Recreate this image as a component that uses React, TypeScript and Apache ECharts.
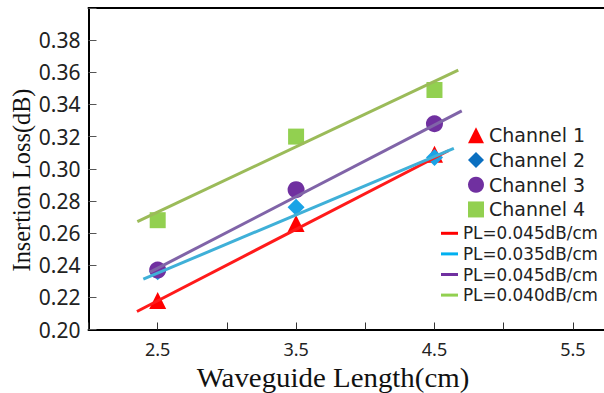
import React, { useEffect, useRef } from "react";
import * as echarts from "echarts";

const xValues = [2.5, 3.5, 4.5];
const channel1 = [0.218, 0.266, 0.309];
const channel2 = [0.236, 0.276, 0.307];
const channel3 = [0.237, 0.287, 0.328];
const channel4 = [0.268, 0.32, 0.349];

const channelNames = ["Channel 1", "Channel 2", "Channel 3", "Channel 4"];
const fitNames = ["fit1", "fit2", "fit3", "fit4"];
const fitLabels = ["PL=0.045dB/cm", "PL=0.035dB/cm", "PL=0.045dB/cm", "PL=0.040dB/cm"];
const fit1 = [[2.35, 0.2112], [4.6, 0.3112]];
const fit2 = [[2.396, 0.2313], [4.64, 0.3127]];
const fit3 = [[2.445, 0.2357], [4.697, 0.336]];
const fit4 = [[2.353, 0.2671], [4.672, 0.3613]];

const yTitle = "Insertion Loss(dB)";
const xTitle = "Waveguide Length(cm)";

const channelColors = ["#ff0000", "#1aa3e6", "#7030a0", "#92d050"];
const channelLegendColors = ["#ff0000", "#0b6fc0", "#7030a0", "#92d050"];
const channelSymbols = ["triangle", "diamond", "circle", "rect"];
const channelSizes = [17, 17, 17, 16];
const fitColors = ["#ff1a1a", "#3fb0d8", "#8064a8", "#9bbb59"];
const fitLegendColors = ["#ff0000", "#00b0f0", "#7030a0", "#92d050"];

export default function App() {
  const ref = useRef<HTMLDivElement>(null);
  useEffect(() => {
    if (!ref.current) return;
    const chart = echarts.init(ref.current, null, { renderer: "svg" });
    const channels = [channel1, channel2, channel3, channel4];
    const fits = [fit1, fit2, fit3, fit4];
    const scatterSeries = channels.map((vals, i) => ({
      name: channelNames[i],
      type: "scatter",
      symbol: channelSymbols[i],
      symbolSize: channelSizes[i],
      itemStyle: { color: channelColors[i], opacity: 1 },
      data: vals.map((v, j) => [xValues[j], v]),
      z: 2,
    }));
    const lineSeries = fits.map((pts, i) => ({
      name: fitNames[i],
      type: "line",
      symbol: "none",
      color: fitColors[i],
      lineStyle: { color: fitColors[i], width: 3 },
      data: pts,
      z: 3,
    }));
    const axisLineStyle = { show: true, onZero: false, lineStyle: { color: "#000", width: 2 } };
    chart.setOption({
      animation: false,
      grid: {
        left: 88.5,
        top: 8,
        right: 0,
        bottom: 63.5,
        show: false,
      },
      xAxis: [
        {
          type: "value",
          position: "bottom",
          min: 2.0,
          max: 5.725,
          interval: 0.5,
          splitLine: { show: false },
          axisLine: axisLineStyle,
          axisTick: { show: true, inside: true, length: 7, lineStyle: { color: "#333", width: 1 } },
          axisLabel: {
            margin: 10,
            fontFamily: "Noto Sans",
            fontSize: 18,
            color: "#222",
            showMaxLabel: false,
            formatter: (v: number) => {
              const r = Math.round(v * 10) / 10;
              return Math.abs(r - Math.floor(r) - 0.5) < 0.01 && r < 5.7 ? r.toFixed(1) : "";
            },
          },
        },
        {
          type: "value",
          position: "top",
          min: 2.0,
          max: 5.725,
          splitLine: { show: false },
          axisLine: axisLineStyle,
          axisTick: { show: false },
          axisLabel: { show: false },
        },
      ],
      yAxis: {
        type: "value",
        min: 0.2,
        max: 0.4,
        interval: 0.02,
        splitLine: { show: false },
        axisLine: axisLineStyle,
        axisTick: { show: true, inside: true, length: 8, lineStyle: { color: "#555", width: 1 } },
        axisLabel: {
          margin: 8,
          fontFamily: "Noto Sans",
          fontSize: 21,
          color: "#222",
          formatter: (v: number) => (v > 0.399 ? "" : v.toFixed(2)),
        },
      },
      legend: [
        {
          orient: "vertical",
          left: 468,
          top: 123,
          padding: 0,
          itemWidth: 16,
          itemHeight: 16,
          itemGap: 0,
          selectedMode: false,
          textStyle: { fontFamily: "DejaVu Sans", fontSize: 19, lineHeight: 24.7, color: "#222" },
          data: channelNames.map((n, i) => ({
            name: n,
            icon: channelSymbols[i],
            itemStyle: { color: channelLegendColors[i] },
          })),
        },
        {
          orient: "vertical",
          left: 441,
          top: 223,
          padding: 0,
          itemWidth: 17,
          itemHeight: 3,
          itemGap: 0,
          selectedMode: false,
          icon: "rect",
          formatter: (name: string) => fitLabels[fitNames.indexOf(name)],
          textStyle: { fontFamily: "DejaVu Sans", fontSize: 16.8, lineHeight: 20.6, color: "#222" },
          data: fitNames.map((n, i) => ({
            name: n,
            itemStyle: { color: fitLegendColors[i] },
          })),
        },
      ],
      graphic: [
        {
          type: "text",
          x: 21,
          y: 180,
          rotation: Math.PI / 2,
          style: {
            text: yTitle,
            font: "24.3px 'Liberation Serif'",
            fill: "#111",
            textAlign: "center",
            textVerticalAlign: "middle",
          },
        },
        {
          type: "text",
          x: 333,
          y: 378,
          scaleX: 1.09,
          style: {
            text: xTitle,
            font: "26.5px 'Liberation Serif'",
            fill: "#111",
            textAlign: "center",
            textVerticalAlign: "middle",
          },
        },
      ],
      series: [...scatterSeries, ...lineSeries],
    });
    return () => chart.dispose();
  }, []);
  return (
    <div
      ref={ref}
      style={{ position: "absolute", left: 0, top: 0, width: 604, height: 393, background: "#fff" }}
    />
  );
}
